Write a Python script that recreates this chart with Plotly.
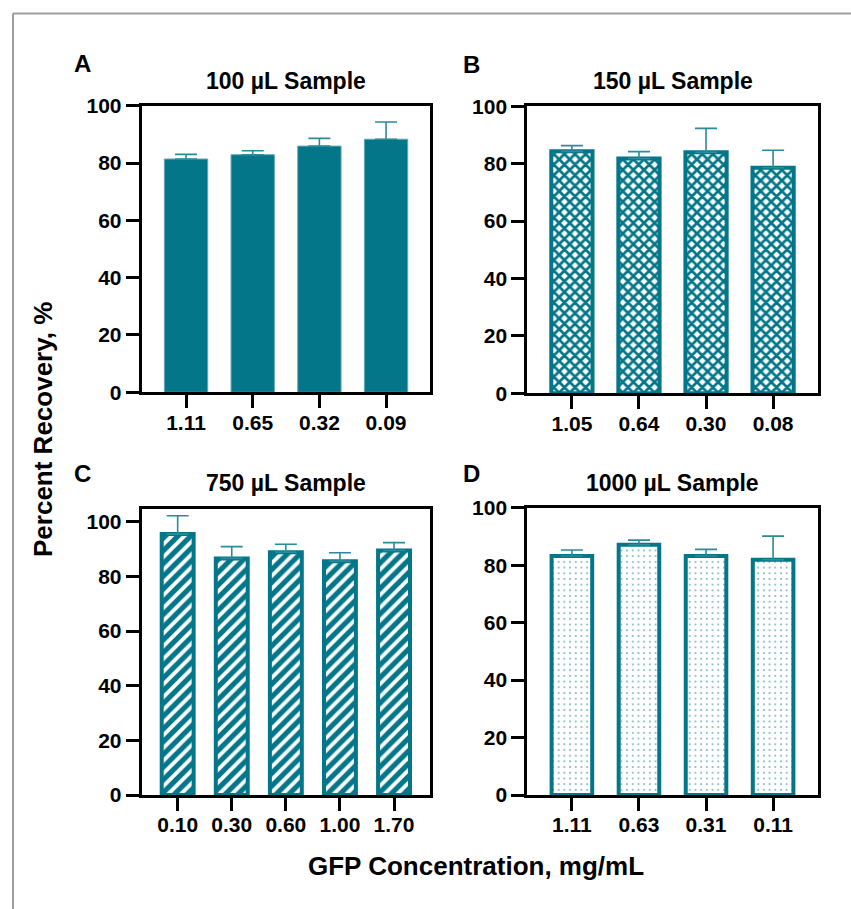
import plotly.graph_objects as go

# ---------------- data ----------------
cats_a = ["1.11", "0.65", "0.32", "0.09"]
vals_a = [81.4, 82.9, 85.9, 88.3]
err_a = [1.6, 1.4, 2.7, 6.0]

cats_b = ["1.05", "0.64", "0.30", "0.08"]
vals_b = [84.3, 81.8, 84.0, 78.6]
err_b = [2.0, 2.4, 8.3, 6.1]

cats_c = ["0.10", "0.30", "0.60", "1.00", "1.70"]
vals_c = [95.5, 86.6, 88.9, 85.6, 89.5]
err_c = [6.7, 4.3, 2.9, 3.1, 2.9]

cats_d = ["1.11", "0.63", "0.31", "0.11"]
vals_d = [83.2, 87.1, 83.2, 81.9]
err_d = [2.1, 1.6, 2.3, 8.2]

panel_titles = ["100 µL Sample", "150 µL Sample", "750 µL Sample", "1000 µL Sample"]
panel_letters = ["A", "B", "C", "D"]
y_ticks = [0, 20, 40, 60, 80, 100]
y_title = "Percent Recovery, %"
x_title = "GFP Concentration, mg/mL"

# ---------------- style ----------------
W, H = 851, 909
TEAL = "#037789"
ERRC = "#2a8b99"
FONT = "Liberation Sans"


def fx(x):
    return x / W


def fy(y):
    return 1 - y / H


# pixel boxes (x0, x1, ytop, ybottom)
boxes = [
    (141.7, 430.4, 105.7, 392.3),
    (527.3, 817.7, 106.3, 393.3),
    (141.7, 430.0, 508.7, 795.0),
    (527.3, 817.7, 507.7, 795.0),
]
y_ranges = [[0, 100], [0, 100], [0, 104.8], [0, 100]]

fig = go.Figure()

err_style = dict(type="data", symmetric=False, color=ERRC, thickness=1.6, width=11)

# Panel A - solid
fig.add_trace(go.Bar(
    x=cats_a, y=vals_a, width=0.65,
    marker=dict(color=TEAL, line=dict(color="#5fa9b4", width=1)),
    error_y=dict(array=err_a, arrayminus=[0] * len(err_a), **err_style),
    xaxis="x", yaxis="y", showlegend=False,
))
# Panel B - checker
fig.add_trace(go.Bar(
    x=cats_b, y=vals_b, width=0.615,
    marker=dict(color="white", line=dict(color=TEAL, width=4),
                pattern=dict(shape="x", size=7.5, solidity=0.6, fgcolor=TEAL,
                             bgcolor="white", fillmode="replace")),
    error_y=dict(array=err_b, arrayminus=[0] * len(err_b), **err_style),
    xaxis="x2", yaxis="y2", showlegend=False,
))
# Panel C - stripes
fig.add_trace(go.Bar(
    x=cats_c, y=vals_c, width=0.59,
    marker=dict(color="white", line=dict(color=TEAL, width=4),
                pattern=dict(shape="/", size=9, solidity=0.58, fgcolor=TEAL,
                             bgcolor="white", fillmode="replace")),
    error_y=dict(array=err_c, arrayminus=[0] * len(err_c), **err_style),
    xaxis="x3", yaxis="y3", showlegend=False,
))
# Panel D - dots
fig.add_trace(go.Bar(
    x=cats_d, y=vals_d, width=0.605,
    marker=dict(color="white", line=dict(color=TEAL, width=4),
                pattern=dict(shape=".", size=5.7, solidity=0.06, fgcolor=TEAL,
                             bgcolor="white", fillmode="replace")),
    error_y=dict(array=err_d, arrayminus=[0] * len(err_d), **err_style),
    xaxis="x4", yaxis="y4", showlegend=False,
))

ncats = [len(cats_a), len(cats_b), len(cats_c), len(cats_d)]
axis_common = dict(
    showline=True, linecolor="black", linewidth=3, mirror=True,
    ticks="outside", ticklen=13, tickwidth=3, tickcolor="black",
    showgrid=False, zeroline=False, automargin=False,
    tickfont=dict(family=FONT, size=21, color="black", weight="bold"),
)

layout = dict(
    width=W, height=H, autosize=False,
    margin=dict(l=0, r=0, t=0, b=0, pad=0, autoexpand=False),
    paper_bgcolor="white", plot_bgcolor="white",
    bargap=0.3,
)

for i, (x0, x1, yt, yb) in enumerate(boxes):
    sfx = "" if i == 0 else str(i + 1)
    anchor_y = "y" + sfx
    anchor_x = "x" + sfx
    pad = 0.665
    layout["xaxis" + sfx] = dict(
        domain=[fx(x0), fx(x1)], anchor=anchor_y, type="category",
        range=[-pad, ncats[i] - 1 + pad], ticklabelstandoff=-4, **axis_common,
    )
    layout["yaxis" + sfx] = dict(
        domain=[fy(yb), fy(yt)], anchor=anchor_x, range=y_ranges[i],
        tickmode="array", tickvals=y_ticks, **axis_common,
    )

fig.update_layout(**layout)

# annotations
title_y = [81, 81, 483, 483]
letter_pos = [(82, 63), (471, 64), (82, 473), (471, 473)]
for i, (x0, x1, yt, yb) in enumerate(boxes):
    fig.add_annotation(
        x=fx((x0 + x1) / 2), y=fy(title_y[i]), xref="paper", yref="paper",
        text=panel_titles[i], showarrow=False, xanchor="center", yanchor="middle",
        font=dict(family=FONT, size=23, color="black", weight="bold"),
    )
    lx, ly = letter_pos[i]
    fig.add_annotation(
        x=fx(lx), y=fy(ly), xref="paper", yref="paper",
        text=panel_letters[i], showarrow=False, xanchor="center", yanchor="middle",
        font=dict(family=FONT, size=24, color="black", weight="bold"),
    )

fig.add_annotation(
    x=fx(43), y=fy(430), xref="paper", yref="paper", text=y_title,
    showarrow=False, textangle=-90, xanchor="center", yanchor="middle",
    font=dict(family=FONT, size=26, color="black", weight="bold"),
)
fig.add_annotation(
    x=fx(476), y=fy(866), xref="paper", yref="paper", text=x_title,
    showarrow=False, xanchor="center", yanchor="middle",
    font=dict(family=FONT, size=26, color="black", weight="bold"),
)

# decorative frame (top and left)
fig.add_shape(type="line", xref="paper", yref="paper",
              x0=fx(13), x1=1, y0=fy(13.5), y1=fy(13.5),
              line=dict(color="#9e9e9e", width=2))
fig.add_shape(type="line", xref="paper", yref="paper",
              x0=fx(13), x1=fx(13), y0=fy(13.5), y1=0,
              line=dict(color="#9e9e9e", width=2))

fig.write_html(
    "out.html",
    config={"displayModeBar": False},
    post_script=(
        "var gd=document.getElementById('{plot_id}');"
        "gd.style.position='fixed';gd.style.top='0px';gd.style.left='0px';"
        "document.documentElement.style.margin='0';"
        "document.documentElement.style.overflow='hidden';"
        "document.body.style.margin='0';document.body.style.padding='0';"
        "document.body.style.overflow='hidden';"
    ),
)
